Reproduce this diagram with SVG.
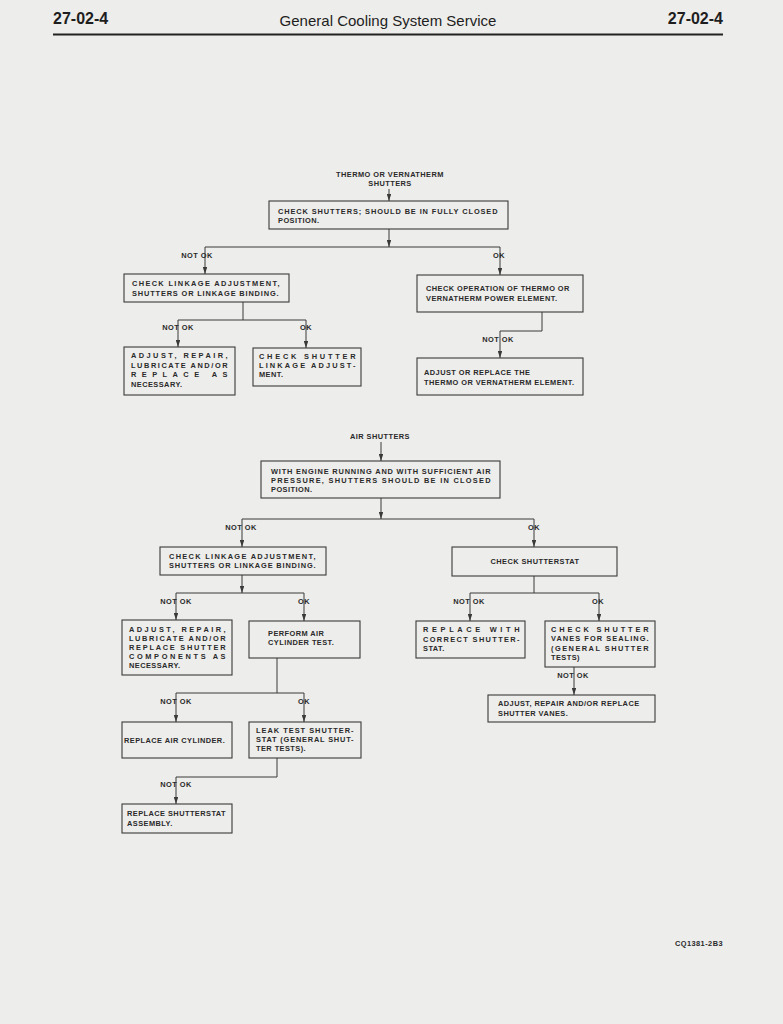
<svg xmlns="http://www.w3.org/2000/svg" width="783" height="1024" viewBox="0 0 783 1024">
<style>
.hd{font-family:"Liberation Sans",Arial,sans-serif;fill:#1e1e1e}
.t{font-family:"Liberation Sans",Arial,sans-serif;font-size:7.4px;font-weight:bold;fill:#2a2a2a;letter-spacing:0.45px}
.b{fill:none;stroke:#3a3a3a;stroke-width:1.1}
.c{fill:none;stroke:#3a3a3a;stroke-width:1}
.a{fill:none;stroke:#3a3a3a;stroke-width:1;marker-end:url(#ah)}
.m{text-anchor:middle}
</style>
<defs>
<marker id="ah" viewBox="0 0 7 4.4" refX="7" refY="2.2" markerWidth="7" markerHeight="4.4" markerUnits="userSpaceOnUse" orient="auto">
<path d="M0,0 L7,2.2 L0,4.4 Z" fill="#3a3a3a"/>
</marker>
</defs>
<rect width="783" height="1024" fill="#ededeb"/>
<g id="header">
<text class="hd" x="53" y="24" font-size="16" font-weight="bold">27-02-4</text>
<text class="hd" x="388" y="26" font-size="15" text-anchor="middle">General Cooling System Service</text>
<text class="hd" x="723" y="24" font-size="16" font-weight="bold" text-anchor="end">27-02-4</text>
<line x1="53" y1="34.5" x2="723" y2="34.5" stroke="#222" stroke-width="2"/>
</g>
<g id="connectors">
<path class="a" d="M389,189 V201"/>
<path class="a" d="M389,229 V247"/>
<path class="c" d="M205,247 H500"/>
<path class="a" d="M205,247 V274"/>
<path class="a" d="M500,247 V275"/>
<path class="c" d="M243,302 V320 M178,320 H306"/>
<path class="a" d="M178,320 V347"/>
<path class="a" d="M306,320 V348"/>
<path class="c" d="M542,312 V331 H500"/>
<path class="a" d="M500,331 V358"/>
<path class="a" d="M381,442 V461"/>
<path class="a" d="M381,498 V519"/>
<path class="c" d="M242,519 H534"/>
<path class="a" d="M242,519 V547"/>
<path class="a" d="M534,519 V547"/>
<path class="a" d="M242,575 V593"/>
<path class="c" d="M176,593 H304"/>
<path class="a" d="M176,593 V620"/>
<path class="a" d="M304,593 V621"/>
<path class="c" d="M277,658 V693 M176,693 H304"/>
<path class="a" d="M176,693 V722"/>
<path class="a" d="M304,693 V722"/>
<path class="c" d="M277,758 V777 H176"/>
<path class="a" d="M176,777 V804"/>
<path class="c" d="M534,576 V593 M470,593 H599"/>
<path class="a" d="M470,593 V621"/>
<path class="a" d="M599,593 V621"/>
<path class="a" d="M574,667 V695"/>
</g>
<g id="labels">
<text class="t m" x="390" y="177">THERMO OR VERNATHERM</text>
<text class="t m" x="390" y="186">SHUTTERS</text>
<text class="t m" x="197" y="258">NOT OK</text>
<text class="t m" x="499" y="258">OK</text>
<text class="t m" x="178" y="330">NOT OK</text>
<text class="t m" x="306" y="330">OK</text>
<text class="t m" x="498" y="342">NOT OK</text>
<text class="t m" x="380" y="439">AIR SHUTTERS</text>
<text class="t m" x="241" y="530">NOT OK</text>
<text class="t m" x="534" y="530">OK</text>
<text class="t m" x="176" y="604">NOT OK</text>
<text class="t m" x="304" y="604">OK</text>
<text class="t m" x="469" y="604">NOT OK</text>
<text class="t m" x="598" y="604">OK</text>
<text class="t m" x="176" y="704">NOT OK</text>
<text class="t m" x="304" y="704">OK</text>
<text class="t m" x="176" y="787">NOT OK</text>
<text class="t m" x="573" y="678">NOT OK</text>
<text class="t" x="723" y="946" text-anchor="end" letter-spacing="0">CQ1381-2B3</text>
</g>
<g id="n1">
<rect class="b" x="269" y="201" width="239" height="28"/>
<text class="t" x="278" y="214" textLength="220" lengthAdjust="spacing">CHECK SHUTTERS; SHOULD BE IN FULLY CLOSED</text>
<text class="t" x="278" y="223">POSITION.</text>
</g>
<g id="n2">
<rect class="b" x="124" y="274" width="165" height="28"/>
<text class="t" x="132" y="286" textLength="148" lengthAdjust="spacing">CHECK LINKAGE ADJUSTMENT,</text>
<text class="t" x="132" y="296" textLength="147" lengthAdjust="spacing">SHUTTERS OR LINKAGE BINDING.</text>
</g>
<g id="n3">
<rect class="b" x="124" y="347" width="111" height="48"/>
<text class="t" x="131" y="358" textLength="97" lengthAdjust="spacing">ADJUST, REPAIR,</text>
<text class="t" x="131" y="368" textLength="97" lengthAdjust="spacing">LUBRICATE AND/OR</text>
<text class="t" x="131" y="377" textLength="97" lengthAdjust="spacing">REPLACE AS</text>
<text class="t" x="131" y="387">NECESSARY.</text>
</g>
<g id="n4">
<rect class="b" x="253" y="348" width="108" height="38"/>
<text class="t" x="259" y="359" textLength="97" lengthAdjust="spacing">CHECK SHUTTER</text>
<text class="t" x="259" y="368" textLength="97" lengthAdjust="spacing">LINKAGE ADJUST-</text>
<text class="t" x="259" y="377">MENT.</text>
</g>
<g id="n5">
<rect class="b" x="417" y="275" width="166" height="37"/>
<text class="t" x="426" y="291">CHECK OPERATION OF THERMO OR</text>
<text class="t" x="426" y="301">VERNATHERM POWER ELEMENT.</text>
</g>
<g id="n6">
<rect class="b" x="417" y="358" width="166" height="37"/>
<text class="t" x="424" y="375">ADJUST OR REPLACE THE</text>
<text class="t" x="424" y="385">THERMO OR VERNATHERM ELEMENT.</text>
</g>
<g id="n7">
<rect class="b" x="261" y="461" width="239" height="37"/>
<text class="t" x="271" y="474" textLength="220" lengthAdjust="spacing">WITH ENGINE RUNNING AND WITH SUFFICIENT AIR</text>
<text class="t" x="271" y="483" textLength="220" lengthAdjust="spacing">PRESSURE, SHUTTERS SHOULD BE IN CLOSED</text>
<text class="t" x="271" y="492">POSITION.</text>
</g>
<g id="n8">
<rect class="b" x="160" y="547" width="166" height="28"/>
<text class="t" x="169" y="559" textLength="147" lengthAdjust="spacing">CHECK LINKAGE ADJUSTMENT,</text>
<text class="t" x="169" y="568" textLength="147" lengthAdjust="spacing">SHUTTERS OR LINKAGE BINDING.</text>
</g>
<g id="n9">
<rect class="b" x="122" y="620" width="110" height="55"/>
<text class="t" x="129" y="632" textLength="97" lengthAdjust="spacing">ADJUST, REPAIR,</text>
<text class="t" x="129" y="641" textLength="97" lengthAdjust="spacing">LUBRICATE AND/OR</text>
<text class="t" x="129" y="650" textLength="97" lengthAdjust="spacing">REPLACE SHUTTER</text>
<text class="t" x="129" y="659" textLength="97" lengthAdjust="spacing">COMPONENTS AS</text>
<text class="t" x="129" y="668">NECESSARY.</text>
</g>
<g id="n10">
<rect class="b" x="249" y="621" width="111" height="37"/>
<text class="t" x="268" y="636">PERFORM AIR</text>
<text class="t" x="268" y="645">CYLINDER TEST.</text>
</g>
<g id="n11">
<rect class="b" x="122" y="722" width="110" height="36"/>
<text class="t" x="124" y="743" letter-spacing="0">REPLACE AIR CYLINDER.</text>
</g>
<g id="n12">
<rect class="b" x="249" y="722" width="112" height="36"/>
<text class="t" x="256" y="733" textLength="98" lengthAdjust="spacing">LEAK TEST SHUTTER-</text>
<text class="t" x="256" y="742" textLength="98" lengthAdjust="spacing">STAT (GENERAL SHUT-</text>
<text class="t" x="256" y="751">TER TESTS).</text>
</g>
<g id="n13">
<rect class="b" x="122" y="804" width="110" height="29"/>
<text class="t" x="127" y="816" letter-spacing="0">REPLACE SHUTTERSTAT</text>
<text class="t" x="127" y="826">ASSEMBLY.</text>
</g>
<g id="n14">
<rect class="b" x="452" y="547" width="165" height="29"/>
<text class="t m" x="535" y="564">CHECK SHUTTERSTAT</text>
</g>
<g id="n15">
<rect class="b" x="416" y="621" width="109" height="37"/>
<text class="t" x="423" y="632" textLength="97" lengthAdjust="spacing">REPLACE WITH</text>
<text class="t" x="423" y="642" textLength="97" lengthAdjust="spacing">CORRECT SHUTTER-</text>
<text class="t" x="423" y="651">STAT.</text>
</g>
<g id="n16">
<rect class="b" x="545" y="621" width="110" height="46"/>
<text class="t" x="551" y="632" textLength="98" lengthAdjust="spacing">CHECK SHUTTER</text>
<text class="t" x="551" y="641" textLength="98" lengthAdjust="spacing">VANES FOR SEALING.</text>
<text class="t" x="551" y="651" textLength="98" lengthAdjust="spacing">(GENERAL SHUTTER</text>
<text class="t" x="551" y="660">TESTS)</text>
</g>
<g id="n17">
<rect class="b" x="488" y="695" width="167" height="27"/>
<text class="t" x="498" y="706">ADJUST, REPAIR AND/OR REPLACE</text>
<text class="t" x="498" y="716">SHUTTER VANES.</text>
</g>
</svg>
